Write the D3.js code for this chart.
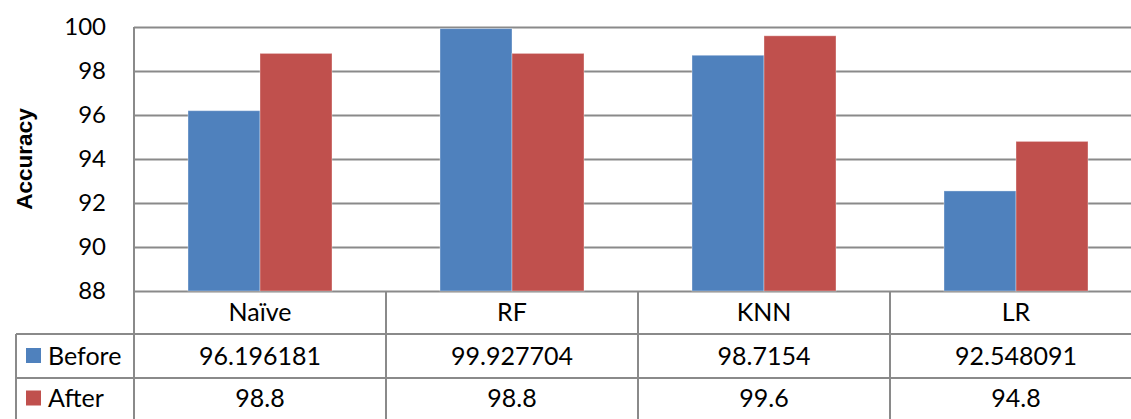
<!DOCTYPE html>
<html>
<head>
<meta charset="utf-8">
<script src="https://cdn.jsdelivr.net/npm/d3@7"></script>
<style>
  html, body { margin: 0; padding: 0; background: #fff; }
  svg { display: block; font-family: Lato, "Open Sans", sans-serif; }
</style>
</head>
<body>
<svg id="chart" width="1131" height="419"></svg>
<script>
// Data
const categories = ["Naïve", "RF", "KNN", "LR"];
const seriesNames = ["Before", "After"];
const beforeValues = [96.196181, 99.927704, 98.7154, 92.548091];
const afterValues = [98.8, 98.8, 99.6, 94.8];
const beforeLabels = ["96.196181", "99.927704", "98.7154", "92.548091"];
const afterLabels = ["98.8", "98.8", "99.6", "94.8"];
const yTicks = [88, 90, 92, 94, 96, 98, 100];
const yTitle = "Accuracy";

const seriesColors = ["#4F81BD", "#C0504D"];
const values = [beforeValues, afterValues];
const labels = [beforeLabels, afterLabels];

const svg = d3.select("#chart");
const W = 1131, H = 419;

// Plot geometry
const plotLeft = 134, plotTop = 27, axisY = 291, colW = 252;
const rowH = 43;
const tableTop = axisY, row1 = axisY + rowH, row2 = row1 + 44, tableBottom = H + 2;
const legendLeft = 16;
const plotRight = plotLeft + colW * categories.length;
const gridColor = "#8a8a8a";
const tableFont = 25;

const y = d3.scaleLinear().domain([88, 100]).range([axisY, plotTop]);
const x0 = d3.scaleBand().domain(categories).range([plotLeft, plotRight]).paddingInner(0).paddingOuter(0);
const x1 = d3.scaleBand().domain(seriesNames).range([0, x0.bandwidth()]).paddingInner(0).paddingOuter(0.75);

// Gridlines
const grid = svg.append("g")
  .attr("transform", `translate(${plotLeft},0)`)
  .call(d3.axisLeft(y).tickValues(yTicks).tickSize(-(W - plotLeft + 20)).tickFormat(""));
grid.select(".domain").remove();
grid.selectAll(".tick line").attr("stroke", gridColor).attr("stroke-width", 2);

// Bars
const groups = svg.append("g").selectAll("g")
  .data(categories)
  .join("g")
  .attr("transform", d => `translate(${x0(d)},0)`);

groups.selectAll("rect")
  .data((c, i) => seriesNames.map((s, j) => ({ s, j, v: values[j][i] })))
  .join("rect")
  .attr("x", d => x1(d.s))
  .attr("width", x1.bandwidth())
  .attr("y", d => y(d.v))
  .attr("height", d => y(88) - y(d.v))
  .attr("fill", d => seriesColors[d.j])
  .attr("stroke", "rgba(255,255,255,0.35)")
  .attr("stroke-width", 1);

// Y axis labels
const yAxis = svg.append("g")
  .attr("transform", `translate(${plotLeft},0)`)
  .call(d3.axisLeft(y).tickValues(yTicks).tickSize(0).tickPadding(28).tickFormat(d3.format("d")));
yAxis.select(".domain").remove();
yAxis.selectAll("text")
  .attr("font-size", 24)
  .attr("fill", "#000")
  .attr("font-family", "Lato, sans-serif");

// Y title
svg.append("text")
  .attr("transform", `translate(32,${(plotTop + axisY) / 2}) rotate(-90)`)
  .attr("text-anchor", "middle")
  .attr("font-family", "'Liberation Sans', Arial, sans-serif")
  .attr("font-weight", "bold")
  .attr("font-size", 22.5)
  .attr("fill", "#000")
  .text(yTitle);

// Data table lines
const lines = svg.append("g").attr("stroke", gridColor).attr("stroke-width", 2).attr("fill", "none");
lines.append("line").attr("x1", plotLeft).attr("x2", plotLeft).attr("y1", plotTop).attr("y2", tableBottom);
categories.forEach((c) => {
  const xx = x0(c) + x0.bandwidth();
  lines.append("line").attr("x1", xx).attr("x2", xx).attr("y1", tableTop).attr("y2", tableBottom);
});
lines.append("line").attr("x1", legendLeft).attr("x2", W + 20).attr("y1", row1).attr("y2", row1);
lines.append("line").attr("x1", legendLeft).attr("x2", W + 20).attr("y1", row2).attr("y2", row2);
lines.append("line").attr("x1", legendLeft).attr("x2", legendLeft).attr("y1", row1).attr("y2", tableBottom);

// Category header row
svg.append("g").selectAll("text")
  .data(categories)
  .join("text")
  .attr("x", d => x0(d) + x0.bandwidth() / 2)
  .attr("y", (tableTop + row1) / 2)
  .attr("dy", "0.35em")
  .attr("text-anchor", "middle")
  .attr("font-size", tableFont)
  .attr("fill", "#000")
  .text(d => d);

// Value rows with legend keys
const rowMids = [(row1 + row2) / 2, (row2 + H) / 2];
seriesNames.forEach((s, j) => {
  const ry = rowMids[j];
  svg.append("rect")
    .attr("x", 26).attr("y", ry - 8)
    .attr("width", 15).attr("height", 15)
    .attr("fill", seriesColors[j]);
  svg.append("text")
    .attr("x", 48).attr("y", ry).attr("dy", "0.35em")
    .attr("font-size", tableFont).attr("fill", "#000")
    .text(s);
  svg.append("g").selectAll("text")
    .data(categories)
    .join("text")
    .attr("x", d => x0(d) + x0.bandwidth() / 2)
    .attr("y", ry)
    .attr("dy", "0.35em")
    .attr("text-anchor", "middle")
    .attr("font-size", tableFont)
    .attr("fill", "#000")
    .text((d, i) => labels[j][i]);
});
</script>
</body>
</html>
